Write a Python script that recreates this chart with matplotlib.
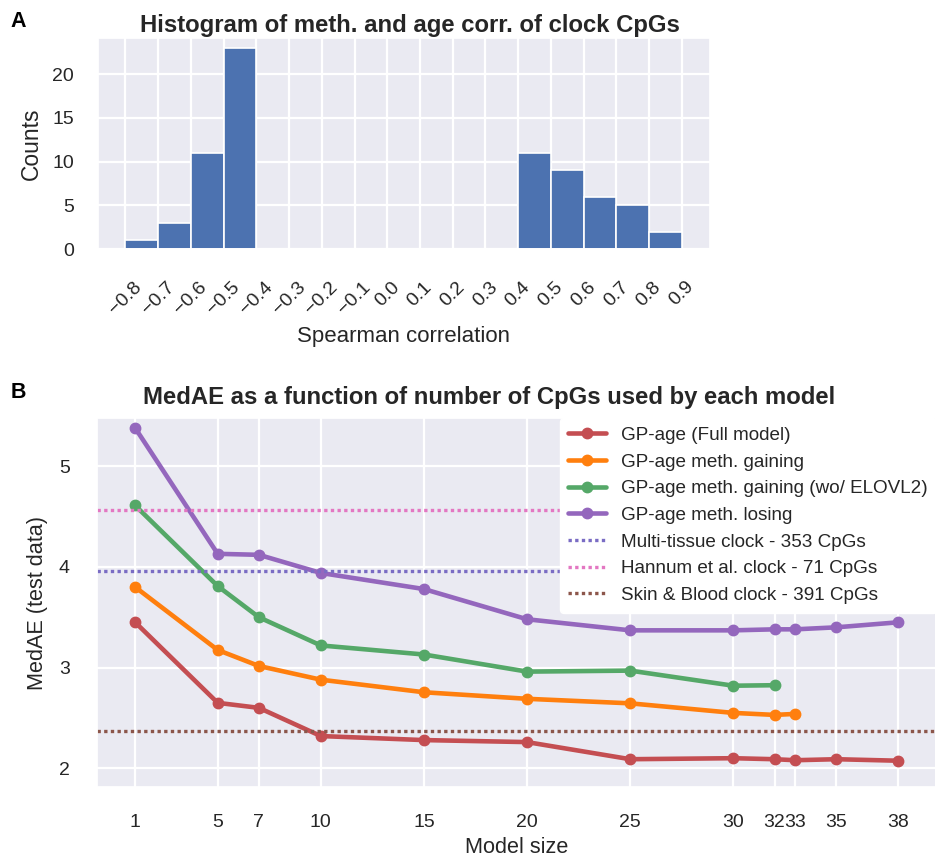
import numpy as np
import matplotlib
matplotlib.use("Agg")
import matplotlib.pyplot as plt
import seaborn as sns

sns.set_theme(style="darkgrid")
plt.rcParams["font.family"] = ["Liberation Sans", "DejaVu Sans"]

# ---- Panel A: histogram of Spearman correlations ----
bin_edges = [-0.8, -0.7, -0.6, -0.5, -0.4, -0.3, -0.2, -0.1, 0.0,
             0.1, 0.2, 0.3, 0.4, 0.5, 0.6, 0.7, 0.8, 0.9]
bin_counts = [1, 3, 11, 23, 0, 0, 0, 0, 0, 0, 0, 0, 11, 9, 6, 5, 2]
hist_ticks = [-0.8, -0.7, -0.6, -0.5, -0.4, -0.3, -0.2, -0.1, 0.0,
              0.1, 0.2, 0.3, 0.4, 0.5, 0.6, 0.7, 0.8, 0.9]

# ---- Panel B: MedAE vs model size ----
sizes_full = [1, 5, 7, 10, 15, 20, 25, 30, 32, 33, 35, 38]
medae_full = [3.45, 2.65, 2.60, 2.32, 2.28, 2.26, 2.09, 2.10, 2.09, 2.08, 2.09, 2.075]
sizes_gain = [1, 5, 7, 10, 15, 20, 25, 30, 32, 33]
medae_gain = [3.80, 3.175, 3.016, 2.88, 2.755, 2.69, 2.645, 2.55, 2.53, 2.54]
sizes_gain_wo = [1, 5, 7, 10, 15, 20, 25, 30, 32]
medae_gain_wo = [4.61, 3.81, 3.50, 3.22, 3.13, 2.96, 2.97, 2.82, 2.825]
sizes_lose = [1, 5, 7, 10, 15, 20, 25, 30, 32, 33, 35, 38]
medae_lose = [5.38, 4.13, 4.12, 3.94, 3.78, 3.48, 3.37, 3.37, 3.38, 3.38, 3.40, 3.45]

multi_tissue = 3.96
hannum = 4.565
skin_blood = 2.37

size_ticks = [1, 5, 7, 10, 15, 20, 25, 30, 32, 33, 35, 38]

W, H = 935, 860
fig = plt.figure(figsize=(W / 100, H / 100), dpi=100)

TICK_FS = 14
LABEL_FS = 16
TITLE_FS = 17.2

# Panel A
axA = fig.add_axes([97.6 / W, 1 - 249 / H, 612 / W, 211.3 / H])
axA.bar(bin_edges[:-1], bin_counts, width=0.1, align="edge",
        color="#4C72B0", edgecolor="white", linewidth=1.2)
axA.set_xticks(hist_ticks)
axA.set_xticklabels([f"{t:.1f}".replace("-", "\u2212") for t in hist_ticks],
                    rotation=45)
axA.set_yticks([0, 5, 10, 15, 20])
axA.xaxis.set_tick_params(length=0, pad=21, labelsize=TICK_FS)
axA.yaxis.set_tick_params(length=0, pad=17, labelsize=TICK_FS)
axA.set_xlabel("Spearman correlation", fontsize=LABEL_FS, labelpad=6)
axA.set_ylabel("Counts", fontsize=LABEL_FS + 0.4, labelpad=7)
axA.set_title("Histogram of meth. and age corr. of clock CpGs",
              fontsize=TITLE_FS, fontweight="bold", pad=4, x=0.51)
axA.grid(True, color="white", linewidth=1.6)

# Panel B
axB = fig.add_axes([97 / W, 1 - 786.7 / H, 839.5 / W, 368.4 / H])
lw, ms = 3.3, 7.5
axB.plot(sizes_full, medae_full, "-o", color="#C44E52", lw=lw, ms=ms,
         label="GP-age (Full model)")
axB.plot(sizes_gain, medae_gain, "-o", color="#FF7F0E", lw=lw, ms=ms,
         label="GP-age meth. gaining")
axB.plot(sizes_gain_wo, medae_gain_wo, "-o", color="#55A868", lw=lw, ms=ms,
         label="GP-age meth. gaining (wo/ ELOVL2)")
axB.plot(sizes_lose, medae_lose, "-o", color="#9467BD", lw=lw, ms=ms,
         label="GP-age meth. losing")
axB.axhline(multi_tissue, color="#7A6CC4", lw=2.4, dashes=(1, 1),
            label="Multi-tissue clock - 353 CpGs")
axB.axhline(hannum, color="#E377C2", lw=2.4, dashes=(1, 1),
            label="Hannum et al. clock - 71 CpGs")
axB.axhline(skin_blood, color="#8C564B", lw=2.4, dashes=(1, 1),
            label="Skin & Blood clock - 391 CpGs")
axB.set_xticks(size_ticks)
axB.set_xticklabels([str(s) for s in size_ticks])
axB.set_yticks([2, 3, 4, 5])
axB.set_ylim(1.817, 5.476)
axB.xaxis.set_tick_params(length=0, pad=20, labelsize=TICK_FS)
axB.yaxis.set_tick_params(length=0, pad=19.5, labelsize=TICK_FS)
axB.set_xlabel("Model size", fontsize=LABEL_FS - 0.4, labelpad=4)
axB.set_ylabel("MedAE (test data)", fontsize=LABEL_FS - 0.4, labelpad=8)
axB.set_title("MedAE as a function of number of CpGs used by each model",
              fontsize=TITLE_FS, fontweight="bold", pad=10, x=0.4665)
axB.grid(True, color="white", linewidth=1.6)
leg = axB.legend(loc="upper right", bbox_to_anchor=(1.0, 1.0),
                 borderaxespad=0, fontsize=13.6, labelspacing=0.5,
                 borderpad=0.45, framealpha=1, facecolor="white",
                 edgecolor="white", handlelength=2.0, handletextpad=0.8)

fig.text(10 / W, 1 - 11 / H, "A", fontsize=15.5, fontweight="bold",
         va="top", ha="left", color="black")
fig.text(11 / W, 1 - 382 / H, "B", fontsize=15.5, fontweight="bold",
         va="top", ha="left", color="black")

fig.savefig("out.png", dpi=100)
